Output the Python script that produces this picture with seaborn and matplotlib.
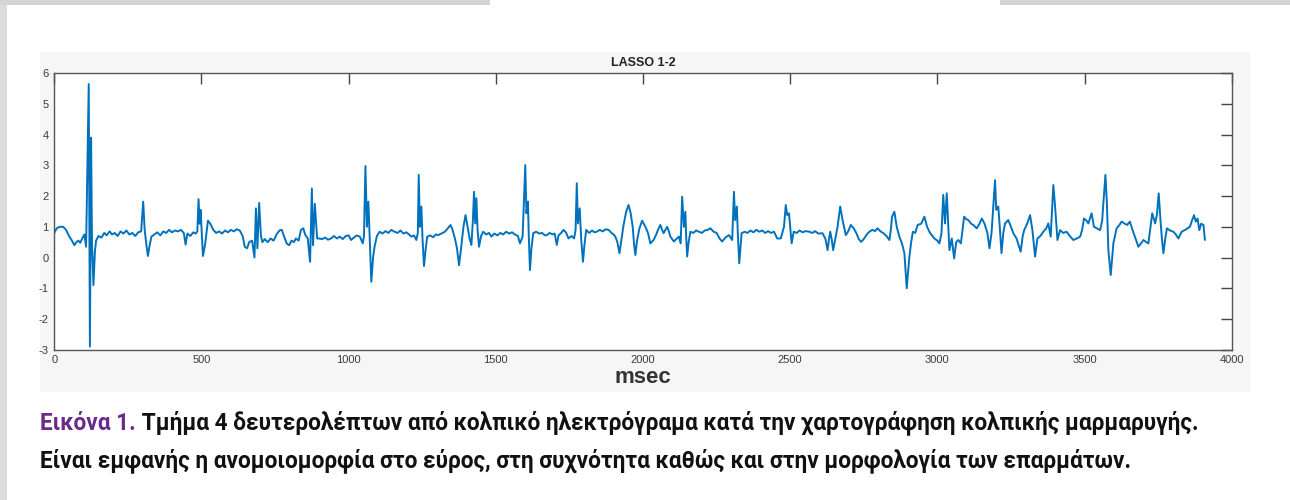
import matplotlib
matplotlib.use("Agg")
import matplotlib.pyplot as plt
import seaborn as sns
import pandas as pd
from matplotlib.patches import Rectangle

sns.set_theme(style="white")
plt.rcParams['font.family'] = ['Liberation Sans', 'DejaVu Sans']
plt.rcParams['axes.unicode_minus'] = False

# electrogram trace (time in msec, amplitude)
MSEC = [
    0, 8, 18, 30, 40, 50, 60, 68, 75, 82, 88, 95, 102, 108, 117, 121, 125, 128, 133, 138,
    142, 150, 160, 170, 178, 188, 196, 205, 215, 225, 235, 245, 255, 265, 275, 285, 295, 302, 307, 313,
    318, 324, 330, 340, 350, 360, 370, 380, 390, 400, 410, 420, 430, 440, 446, 452, 462, 472, 480, 486,
    490, 494, 497, 505, 512, 522, 530, 540, 550, 560, 570, 580, 590, 600, 610, 620, 630, 640, 647, 655,
    662, 672, 680, 685, 690, 696, 702, 707, 715, 725, 735, 745, 755, 765, 773, 780, 790, 798, 806, 814,
    821, 830, 838, 846, 852, 861, 869, 875, 879, 885, 893, 898, 910, 920, 930, 940, 950, 960, 970, 980,
    990, 1000, 1008, 1018, 1028, 1038, 1048, 1052, 1057, 1062, 1067, 1072, 1077, 1083, 1088, 1096, 1105, 1115, 1125, 1135,
    1145, 1156, 1166, 1176, 1186, 1196, 1205, 1213, 1222, 1230, 1235, 1238, 1242, 1247, 1251, 1256, 1262, 1267, 1277, 1287,
    1296, 1304, 1315, 1327, 1337, 1346, 1353, 1361, 1368, 1375, 1382, 1390, 1397, 1404, 1412, 1417, 1422, 1426, 1430, 1434,
    1438, 1443, 1450, 1457, 1467, 1477, 1485, 1495, 1505, 1515, 1525, 1535, 1545, 1555, 1565, 1575, 1582, 1591, 1600, 1604,
    1609, 1612, 1616, 1621, 1627, 1637, 1647, 1657, 1667, 1673, 1683, 1693, 1700, 1707, 1713, 1722, 1730, 1738, 1747, 1757,
    1766, 1771, 1775, 1779, 1785, 1790, 1796, 1801, 1807, 1817, 1827, 1835, 1843, 1853, 1863, 1873, 1883, 1893, 1900, 1906,
    1913, 1920, 1927, 1934, 1943, 1951, 1958, 1965, 1970, 1974, 1980, 1988, 1997, 2008, 2017, 2025, 2036, 2045, 2051, 2059,
    2065, 2070, 2076, 2082, 2088, 2093, 2099, 2105, 2113, 2122, 2128, 2133, 2139, 2144, 2147, 2150, 2155, 2161, 2171, 2180,
    2190, 2200, 2210, 2220, 2229, 2240, 2250, 2260, 2269, 2280, 2292, 2303, 2309, 2313, 2319, 2322, 2327, 2331, 2335, 2345,
    2355, 2365, 2375, 2385, 2395, 2405, 2415, 2425, 2435, 2445, 2456, 2468, 2479, 2485, 2490, 2496, 2505, 2512, 2522, 2532,
    2542, 2552, 2565, 2575, 2585, 2595, 2610, 2620, 2627, 2632, 2636, 2641, 2646, 2653, 2661, 2670, 2678, 2689, 2697, 2706,
    2716, 2725, 2733, 2741, 2750, 2760, 2769, 2779, 2788, 2797, 2807, 2817, 2827, 2837, 2842, 2846, 2854, 2862, 2871, 2880,
    2888, 2896, 2905, 2911, 2917, 2925, 2933, 2945, 2956, 2965, 2975, 2990, 3000, 3007, 3014, 3020, 3026, 3032, 3041, 3049,
    3057, 3064, 3071, 3080, 3091, 3098, 3105, 3115, 3122, 3134, 3143, 3151, 3160, 3170, 3177, 3184, 3196, 3200, 3207, 3212,
    3218, 3224, 3230, 3241, 3250, 3258, 3269, 3283, 3290, 3295, 3305, 3315, 3323, 3332, 3340, 3350, 3360, 3370, 3377, 3385,
    3394, 3400, 3408, 3417, 3428, 3439, 3450, 3462, 3474, 3485, 3492, 3498, 3507, 3513, 3524, 3532, 3542, 3553, 3560, 3564,
    3571, 3576, 3581, 3589, 3598, 3609, 3618, 3626, 3637, 3645, 3654, 3663, 3671, 3683, 3695, 3700, 3710, 3717, 3724, 3730,
    3740, 3746, 3752, 3758, 3763, 3768, 3774, 3780, 3790, 3802, 3810, 3819, 3830, 3842, 3850, 3858, 3865, 3872, 3878, 3884,
    3890, 3896, 3904, 3909,
]
SIGNAL = [
    0.80, 0.95, 1.00, 1.00, 0.90, 0.70, 0.55, 0.40, 0.50, 0.55, 0.48, 0.62, 0.75, 0.35, 5.65, -2.90, 3.90, 0.50, -0.90, 0.20,
    0.55, 0.70, 0.65, 0.80, 0.72, 0.85, 0.75, 0.80, 0.70, 0.85, 0.78, 0.88, 0.75, 0.80, 0.70, 0.82, 0.85, 1.82, 0.90, 0.40,
    0.05, 0.40, 0.68, 0.75, 0.82, 0.72, 0.85, 0.80, 0.90, 0.82, 0.88, 0.85, 0.90, 0.80, 0.42, 0.78, 0.70, 0.82, 0.78, 0.85,
    1.90, 1.10, 1.55, 0.05, 0.40, 1.20, 1.10, 0.90, 0.80, 0.85, 0.78, 0.88, 0.82, 0.90, 0.85, 0.92, 0.88, 0.70, 0.35, 0.30,
    0.50, 0.55, 0.00, 1.60, 0.30, 1.78, 0.70, 0.50, 0.60, 0.50, 0.62, 0.55, 0.75, 0.88, 0.90, 0.70, 0.45, 0.40, 0.55, 0.50,
    0.62, 0.55, 0.90, 0.95, 0.75, 0.62, -0.14, 2.25, 0.40, 1.75, 0.62, 0.62, 0.60, 0.65, 0.58, 0.62, 0.70, 0.62, 0.68, 0.60,
    0.70, 0.72, 0.57, 0.65, 0.72, 0.68, 0.46, 0.70, 2.98, 1.00, 1.82, 0.50, -0.79, 0.00, 0.35, 0.70, 0.84, 0.78, 0.86, 0.80,
    0.90, 0.84, 0.80, 0.88, 0.78, 0.82, 0.75, 0.68, 0.72, 0.57, 0.80, 2.69, 1.00, 1.66, 0.60, -0.28, 0.30, 0.68, 0.72, 0.66,
    0.75, 0.73, 0.78, 0.84, 0.95, 1.06, 0.90, 0.62, 0.30, -0.25, 0.30, 1.00, 1.38, 1.00, 0.57, 0.41, 1.20, 2.14, 1.11, 1.93,
    0.90, 0.35, 0.70, 0.84, 0.75, 0.80, 0.68, 0.78, 0.72, 0.80, 0.75, 0.84, 0.78, 0.82, 0.75, 0.70, 0.46, 0.68, 3.01, 1.44,
    1.82, 0.70, -0.41, 0.30, 0.79, 0.84, 0.78, 0.80, 0.72, 0.73, 0.80, 0.75, 0.78, 0.41, 0.72, 0.80, 0.90, 0.82, 0.62, 0.70,
    0.62, 0.90, 2.42, 1.11, 1.60, 0.60, -0.14, 0.40, 0.90, 0.80, 0.88, 0.82, 0.84, 0.90, 0.85, 0.92, 0.90, 0.80, 0.75, 0.68,
    0.50, 0.14, 0.60, 1.06, 1.50, 1.71, 1.45, 1.00, 0.40, 0.08, 0.57, 0.95, 1.20, 1.00, 0.80, 0.46, 0.57, 0.75, 0.90, 1.06,
    0.90, 0.79, 0.90, 1.00, 0.85, 0.68, 0.60, 0.52, 0.60, 0.68, 0.46, 1.98, 1.00, 1.49, 0.60, 0.03, 0.50, 0.84, 0.80, 0.88,
    0.84, 0.80, 0.88, 0.90, 0.95, 0.84, 0.80, 0.62, 0.52, 0.65, 0.73, 0.57, 2.14, 1.22, 1.66, 0.80, -0.19, 0.30, 0.79, 0.84,
    0.80, 0.88, 0.82, 0.90, 0.84, 0.88, 0.80, 0.86, 0.80, 0.84, 0.62, 0.62, 1.00, 1.71, 1.38, 1.44, 0.46, 0.84, 0.80, 0.88,
    0.82, 0.86, 0.84, 0.80, 0.86, 0.78, 0.79, 0.60, 0.24, 0.60, 0.84, 0.60, 0.24, 0.60, 1.00, 1.66, 1.22, 0.73, 0.85, 1.06,
    0.95, 0.79, 0.60, 0.51, 0.60, 0.75, 0.84, 0.90, 0.86, 0.95, 0.85, 0.79, 0.70, 0.57, 0.90, 1.33, 1.49, 1.00, 0.68, 0.45,
    0.14, -1.00, 0.03, 0.50, 0.84, 0.80, 1.06, 1.10, 1.33, 1.00, 0.80, 0.62, 0.55, 0.46, 0.79, 2.04, 1.11, 2.09, 0.24, 0.62,
    -0.03, 0.50, 0.57, 0.46, 1.33, 1.25, 1.22, 1.10, 1.06, 0.95, 1.10, 1.27, 1.11, 0.80, 0.30, 0.79, 2.52, 1.55, 1.66, 1.00,
    0.14, 0.80, 1.11, 1.22, 1.00, 0.79, 0.62, 0.19, 0.70, 0.89, 1.10, 1.38, 0.89, 0.03, 0.62, 0.70, 0.84, 0.95, 1.11, 0.68,
    2.36, 1.66, 0.57, 0.89, 0.80, 0.84, 0.70, 0.57, 0.62, 0.68, 0.90, 1.27, 1.20, 1.11, 1.44, 1.00, 0.95, 0.89, 1.20, 1.77,
    2.69, 1.77, 0.24, -0.57, 0.46, 0.95, 1.05, 1.17, 1.10, 1.06, 1.17, 0.90, 0.68, 0.35, 0.50, 0.57, 0.50, 0.46, 1.00, 1.44,
    1.11, 1.40, 2.09, 1.22, 0.60, 0.14, 0.60, 0.95, 0.88, 0.84, 0.75, 0.62, 0.84, 0.90, 0.95, 1.00, 1.20, 1.38, 1.17, 1.27,
    0.89, 1.10, 1.06, 0.57,
]

X_TICKS = [0, 500, 1000, 1500, 2000, 2500, 3000, 3500, 4000]
Y_TICKS = [-3, -2, -1, 0, 1, 2, 3, 4, 5, 6]

TITLE = 'LASSO 1-2'
XLABEL = 'msec'
CAPTION_HEAD = 'Εικόνα 1.'
CAPTION_1 = ' Τμήμα 4 δευτερολέπτων από κολπικό ηλεκτρόγραμα κατά την χαρτογράφηση κολπικής μαρμαρυγής.'
CAPTION_2 = 'Είναι εμφανής η ανομοιομορφία στο εύρος, στη συχνότητα καθώς και στην μορφολογία των επαρμάτων.'
CAPTION_FONT = ['Roboto', 'DejaVu Sans']

W, H = 1290, 500
df = pd.DataFrame({'msec': MSEC, 'value': SIGNAL})

fig = plt.figure(figsize=(W / 100, H / 100), dpi=100, facecolor='white')

# scanned-page look: light grey figure panel + edge shadow
fig.patches.append(Rectangle((40 / W, 1 - 392 / H), 1210 / W, 340 / H, transform=fig.transFigure,
                             facecolor='#f6f6f6', edgecolor='none', zorder=-5))
fig.patches.append(Rectangle((0, 0), 7 / W, 1, transform=fig.transFigure,
                             facecolor='#dcdcdc', edgecolor='none', zorder=-4))
fig.patches.append(Rectangle((0, 1 - 5 / H), 490 / W, 5 / H, transform=fig.transFigure,
                             facecolor='#d4d4d4', edgecolor='none', zorder=-4))
fig.patches.append(Rectangle((1000 / W, 1 - 5 / H), 290 / W, 5 / H, transform=fig.transFigure,
                             facecolor='#d4d4d4', edgecolor='none', zorder=-4))

ax = fig.add_axes([54.3 / W, 1 - 349.6 / H, 1177.4 / W, 276.3 / H])
ax.set_facecolor('white')
sns.lineplot(data=df, x='msec', y='value', ax=ax, color='#0072BD', linewidth=1.4,
             estimator=None, sort=False)

ax.set_xlim(0, 4000)
ax.set_ylim(-3, 6)
ax.set_xticks(X_TICKS)
ax.set_yticks(Y_TICKS)
ax.set_xticklabels([str(t) for t in X_TICKS])
ax.set_yticklabels([str(t) for t in Y_TICKS])
ax.tick_params(direction='in', length=8, width=1, top=True, right=True,
               color='#444444', labelcolor='#3a3a3a', labelsize=8, pad=4)
for s in ax.spines.values():
    s.set_visible(True)
    s.set_color('#555555')
    s.set_linewidth(1.0)

ax.set_title(TITLE, fontsize=9, weight='bold', color='#222222', pad=5)
ax.set_xlabel(XLABEL, fontsize=16, weight='bold', color='#333333', labelpad=1)
ax.set_ylabel('')

# caption, sized so the first line spans the same width as in the original
fig.canvas.draw()
rend = fig.canvas.get_renderer()
probe = fig.text(0, 0, CAPTION_HEAD + CAPTION_1, fontsize=14, weight='bold', family=CAPTION_FONT)
w_probe = probe.get_window_extent(rend).width
probe.remove()
fs = 14 * 1165 / w_probe

x0 = 40 / W
head = fig.text(x0, 1 - 423 / H, CAPTION_HEAD, fontsize=fs, weight='bold', family=CAPTION_FONT,
                color='#6a2a8c', va='center')
w_head = head.get_window_extent(rend).width
fig.text(x0 + w_head / W, 1 - 423 / H, CAPTION_1, fontsize=fs, weight='bold', family=CAPTION_FONT,
         color='#111111', va='center')
fig.text(x0, 1 - 461 / H, CAPTION_2, fontsize=fs, weight='bold', family=CAPTION_FONT,
         color='#111111', va='center')

fig.savefig('out.png', dpi=100, facecolor='white')
plt.close(fig)
